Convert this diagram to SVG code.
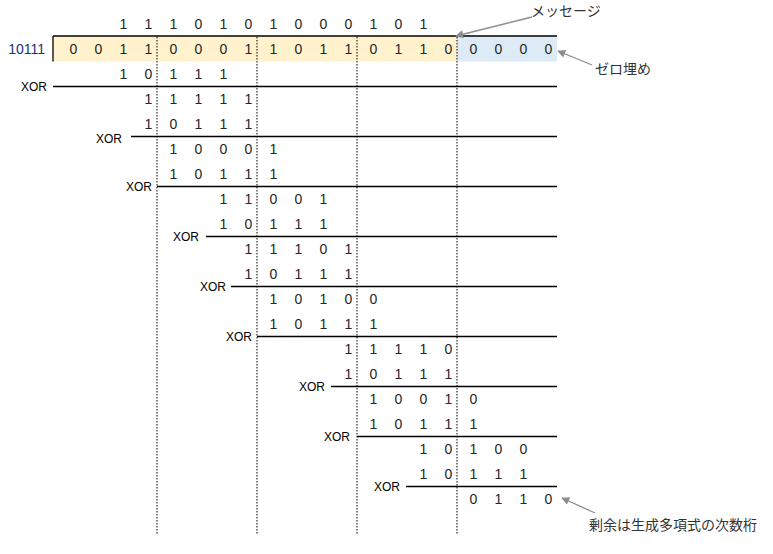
<svg xmlns="http://www.w3.org/2000/svg" width="773" height="554" viewBox="0 0 773 554">
<style>
.d{font-family:"Liberation Sans",Arial,sans-serif;font-size:14px;fill:#262626;text-anchor:middle}
.lbl{font-family:"Liberation Sans",Arial,sans-serif;font-size:12px;fill:#000;text-anchor:end}
.jp{font-family:"Liberation Sans","Noto Sans CJK JP",sans-serif;font-size:14px;fill:#333}
.rule{stroke:#000;stroke-width:1.3;fill:none}
.dot{stroke:#000;stroke-width:1;stroke-dasharray:1.5 1.5;fill:none}
.arr{stroke:#8c8c8c;stroke-width:1.3;fill:none;marker-end:url(#ah)}
</style>
<defs>
<marker id="ah" viewBox="0 0 10 10" refX="9" refY="5" markerWidth="9" markerHeight="8" markerUnits="userSpaceOnUse" orient="auto">
<path d="M0,0 L10,5 L0,10 z" fill="#8c8c8c"/>
</marker>
</defs>
<rect width="773" height="554" fill="#fff"/>
<g id="backgrounds">
<rect x="53" y="36" width="404" height="25.5" fill="#FFF2CC"/>
<rect x="457" y="36" width="100" height="25.5" fill="#DDEBF7"/>
</g>
<g id="grid">
<line class="dot" x1="157" y1="37" x2="157" y2="535"/>
<line class="dot" x1="257" y1="37" x2="257" y2="535"/>
<line class="dot" x1="357" y1="37" x2="357" y2="535"/>
<line class="dot" x1="457" y1="37" x2="457" y2="535"/>
<line class="rule" x1="53" y1="36" x2="557" y2="36"/>
<line class="rule" x1="53" y1="36" x2="53" y2="61.5"/>
<line class="rule" x1="53" y1="86.5" x2="557" y2="86.5"/>
<line class="rule" x1="131" y1="136.5" x2="557" y2="136.5"/>
<line class="rule" x1="157" y1="186.5" x2="557" y2="186.5"/>
<line class="rule" x1="206" y1="236.5" x2="557" y2="236.5"/>
<line class="rule" x1="231" y1="286.5" x2="557" y2="286.5"/>
<line class="rule" x1="257" y1="336.5" x2="557" y2="336.5"/>
<line class="rule" x1="331" y1="386.5" x2="557" y2="386.5"/>
<line class="rule" x1="357" y1="436.5" x2="557" y2="436.5"/>
<line class="rule" x1="406" y1="486.5" x2="557" y2="486.5"/>
</g>
<g id="xor-labels" class="lbl">
<text x="47" y="91">XOR</text>
<text x="122" y="143">XOR</text>
<text x="152" y="191">XOR</text>
<text x="199" y="241">XOR</text>
<text x="226" y="291">XOR</text>
<text x="252" y="341">XOR</text>
<text x="325" y="391">XOR</text>
<text x="350" y="441">XOR</text>
<text x="400" y="491">XOR</text>
</g>
<g id="divisor">
<text x="45" y="54" style="font-family:'Liberation Sans',Arial,sans-serif;font-size:14px;fill:#203080;text-anchor:end">10111</text>
</g>
<g id="quotient" class="d">
<text x="123.5" y="28.5">1</text><text x="148.5" y="28.5">1</text><text x="173.5" y="28.5">1</text><text x="198.5" y="28.5">0</text><text x="223.5" y="28.5">1</text><text x="248.5" y="28.5">0</text><text x="273.5" y="28.5">1</text><text x="298.5" y="28.5">0</text><text x="323.5" y="28.5">0</text><text x="348.5" y="28.5">0</text><text x="373.5" y="28.5">1</text><text x="398.5" y="28.5">0</text><text x="423.5" y="28.5">1</text>
</g>
<g id="dividend" class="d">
<text x="73.5" y="53.5">0</text><text x="98.5" y="53.5">0</text><text x="123.5" y="53.5">1</text><text x="148.5" y="53.5">1</text><text x="173.5" y="53.5">0</text><text x="198.5" y="53.5">0</text><text x="223.5" y="53.5">0</text><text x="248.5" y="53.5">1</text><text x="273.5" y="53.5">1</text><text x="298.5" y="53.5">0</text><text x="323.5" y="53.5">1</text><text x="348.5" y="53.5">1</text><text x="373.5" y="53.5">0</text><text x="398.5" y="53.5">1</text><text x="423.5" y="53.5">1</text><text x="448.5" y="53.5">0</text><text x="473.5" y="53.5">0</text><text x="498.5" y="53.5">0</text><text x="523.5" y="53.5">0</text><text x="548.5" y="53.5">0</text>
</g>
<g id="step1" class="d">
<text x="123.5" y="78.5">1</text><text x="148.5" y="78.5">0</text><text x="173.5" y="78.5">1</text><text x="198.5" y="78.5">1</text><text x="223.5" y="78.5">1</text>
<text x="148.5" y="103.5">1</text><text x="173.5" y="103.5">1</text><text x="198.5" y="103.5">1</text><text x="223.5" y="103.5">1</text><text x="248.5" y="103.5">1</text>
</g>
<g id="step2" class="d">
<text x="148.5" y="128.5">1</text><text x="173.5" y="128.5">0</text><text x="198.5" y="128.5">1</text><text x="223.5" y="128.5">1</text><text x="248.5" y="128.5">1</text>
<text x="173.5" y="153.5">1</text><text x="198.5" y="153.5">0</text><text x="223.5" y="153.5">0</text><text x="248.5" y="153.5">0</text><text x="273.5" y="153.5">1</text>
</g>
<g id="step3" class="d">
<text x="173.5" y="178.5">1</text><text x="198.5" y="178.5">0</text><text x="223.5" y="178.5">1</text><text x="248.5" y="178.5">1</text><text x="273.5" y="178.5">1</text>
<text x="223.5" y="203.5">1</text><text x="248.5" y="203.5">1</text><text x="273.5" y="203.5">0</text><text x="298.5" y="203.5">0</text><text x="323.5" y="203.5">1</text>
</g>
<g id="step4" class="d">
<text x="223.5" y="228.5">1</text><text x="248.5" y="228.5">0</text><text x="273.5" y="228.5">1</text><text x="298.5" y="228.5">1</text><text x="323.5" y="228.5">1</text>
<text x="248.5" y="253.5">1</text><text x="273.5" y="253.5">1</text><text x="298.5" y="253.5">1</text><text x="323.5" y="253.5">0</text><text x="348.5" y="253.5">1</text>
</g>
<g id="step5" class="d">
<text x="248.5" y="278.5">1</text><text x="273.5" y="278.5">0</text><text x="298.5" y="278.5">1</text><text x="323.5" y="278.5">1</text><text x="348.5" y="278.5">1</text>
<text x="273.5" y="303.5">1</text><text x="298.5" y="303.5">0</text><text x="323.5" y="303.5">1</text><text x="348.5" y="303.5">0</text><text x="373.5" y="303.5">0</text>
</g>
<g id="step6" class="d">
<text x="273.5" y="328.5">1</text><text x="298.5" y="328.5">0</text><text x="323.5" y="328.5">1</text><text x="348.5" y="328.5">1</text><text x="373.5" y="328.5">1</text>
<text x="348.5" y="353.5">1</text><text x="373.5" y="353.5">1</text><text x="398.5" y="353.5">1</text><text x="423.5" y="353.5">1</text><text x="448.5" y="353.5">0</text>
</g>
<g id="step7" class="d">
<text x="348.5" y="378.5">1</text><text x="373.5" y="378.5">0</text><text x="398.5" y="378.5">1</text><text x="423.5" y="378.5">1</text><text x="448.5" y="378.5">1</text>
<text x="373.5" y="403.5">1</text><text x="398.5" y="403.5">0</text><text x="423.5" y="403.5">0</text><text x="448.5" y="403.5">1</text><text x="473.5" y="403.5">0</text>
</g>
<g id="step8" class="d">
<text x="373.5" y="428.5">1</text><text x="398.5" y="428.5">0</text><text x="423.5" y="428.5">1</text><text x="448.5" y="428.5">1</text><text x="473.5" y="428.5">1</text>
<text x="423.5" y="453.5">1</text><text x="448.5" y="453.5">0</text><text x="473.5" y="453.5">1</text><text x="498.5" y="453.5">0</text><text x="523.5" y="453.5">0</text>
</g>
<g id="step9" class="d">
<text x="423.5" y="478.5">1</text><text x="448.5" y="478.5">0</text><text x="473.5" y="478.5">1</text><text x="498.5" y="478.5">1</text><text x="523.5" y="478.5">1</text>
</g>
<g id="remainder" class="d">
<text x="473.5" y="503.5">0</text><text x="498.5" y="503.5">1</text><text x="523.5" y="503.5">1</text><text x="548.5" y="503.5">0</text>
</g>
<g id="note-message"><text class="jp" x="531" y="16">メッセージ</text></g>
<g id="note-zero"><text class="jp" x="595" y="74">ゼロ埋め</text></g>
<g id="note-remainder"><text class="jp" x="589" y="530">剰余は生成多項式の次数桁</text></g>
<g id="connectors">
<line class="arr" x1="532" y1="17" x2="456" y2="36"/>
<line class="arr" x1="592" y1="65" x2="558" y2="51"/>
<line class="arr" x1="595" y1="513" x2="562" y2="498"/>
</g>
</svg>
